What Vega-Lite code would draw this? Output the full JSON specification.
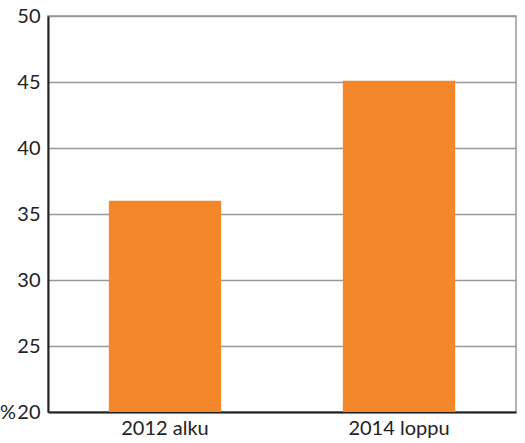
{
  "$schema": "https://vega.github.io/schema/vega-lite/v6.json",
  "autosize": {"type": "none"},
  "width": 468,
  "height": 396,
  "padding": {"left": 48, "top": 16, "right": 9, "bottom": 31},
  "background": "white",
  "config": {
    "font": "Lato",
    "view": {"stroke": "#999999", "strokeWidth": 1.5}
  },
  "data": {
    "values": [
      {"period": "2012 alku", "share": 36.0},
      {"period": "2014 loppu", "share": 45.1}
    ]
  },
  "mark": {"type": "bar", "color": "#F5872B"},
  "encoding": {
    "x": {
      "field": "period",
      "type": "nominal",
      "sort": null,
      "scale": {"paddingInner": 0.52, "paddingOuter": 0.26},
      "axis": {
        "title": null,
        "labelAngle": 0,
        "labelFontSize": 20,
        "labelColor": "#222222",
        "labelPadding": 6,
        "ticks": false,
        "domainColor": "#222222",
        "domainWidth": 2
      }
    },
    "y": {
      "field": "share",
      "type": "quantitative",
      "scale": {"domain": [20, 50], "nice": false, "zero": false},
      "axis": {
        "title": null,
        "values": [20, 25, 30, 35, 40, 45, 50],
        "labelExpr": "datum.value == 20 ? '%\u200a20' : datum.label",
        "labelFontSize": 20,
        "labelColor": "#222222",
        "labelPadding": 8,
        "ticks": false,
        "domainColor": "#222222",
        "domainWidth": 2,
        "gridColor": "#999999",
        "gridWidth": 1.5,
        "gridOpacity": 1
      }
    },
    "y2": {"datum": 20}
  }
}
